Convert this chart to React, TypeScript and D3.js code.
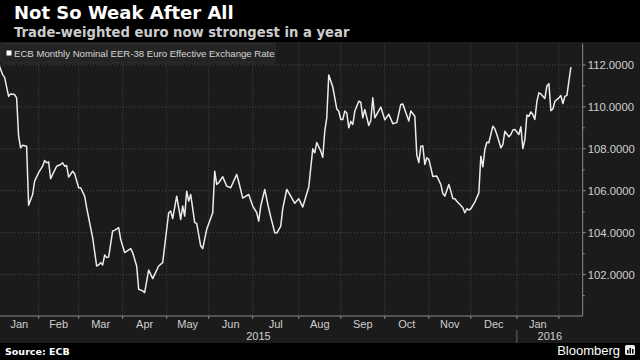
import React from "react";
import * as d3 from "d3";

const W = 640;
const H = 360;

// ---- data ----
const obsDates = [
  "2015-01-02","2015-01-07","2015-01-08","2015-01-12","2015-01-13","2015-01-15","2015-01-16","2015-01-19","2015-01-20","2015-01-21","2015-01-23","2015-01-26","2015-01-28","2015-01-29",
  "2015-02-02","2015-02-04","2015-02-05","2015-02-06","2015-02-09","2015-02-10","2015-02-11","2015-02-13","2015-02-17","2015-02-18","2015-02-19","2015-02-20","2015-02-23","2015-02-25","2015-02-26",
  "2015-03-02","2015-03-03","2015-03-05","2015-03-06","2015-03-10","2015-03-11","2015-03-13","2015-03-16","2015-03-17","2015-03-18","2015-03-19","2015-03-20","2015-03-23","2015-03-25","2015-03-26","2015-03-30","2015-03-31",
  "2015-04-02","2015-04-07","2015-04-08","2015-04-10","2015-04-13","2015-04-15","2015-04-16","2015-04-20","2015-04-22","2015-04-27","2015-04-29","2015-04-30",
  "2015-05-04","2015-05-05","2015-05-06","2015-05-08","2015-05-12","2015-05-13","2015-05-14","2015-05-15","2015-05-18","2015-05-19","2015-05-21","2015-05-22","2015-05-26","2015-05-27","2015-05-29",
  "2015-06-03","2015-06-04","2015-06-05","2015-06-08","2015-06-10","2015-06-12","2015-06-16","2015-06-19","2015-06-22","2015-06-24","2015-06-29",
  "2015-07-01","2015-07-03","2015-07-06","2015-07-07","2015-07-09","2015-07-13","2015-07-14","2015-07-16","2015-07-17","2015-07-21","2015-07-22","2015-07-24","2015-07-28","2015-07-30",
  "2015-08-03","2015-08-05","2015-08-10","2015-08-12","2015-08-13","2015-08-14","2015-08-18","2015-08-19","2015-08-20","2015-08-21","2015-08-24","2015-08-26","2015-08-28","2015-08-31",
  "2015-09-01","2015-09-02","2015-09-03","2015-09-04","2015-09-07","2015-09-08","2015-09-09","2015-09-10","2015-09-14","2015-09-15","2015-09-16","2015-09-17","2015-09-21","2015-09-22","2015-09-23","2015-09-24","2015-09-29",
  "2015-10-01","2015-10-05","2015-10-07","2015-10-09","2015-10-13","2015-10-14","2015-10-19","2015-10-20","2015-10-22","2015-10-23","2015-10-26","2015-10-27","2015-10-28","2015-10-29","2015-10-30",
  "2015-11-02","2015-11-03","2015-11-04","2015-11-06","2015-11-10","2015-11-11","2015-11-12","2015-11-16","2015-11-17","2015-11-18","2015-11-19","2015-11-20","2015-11-24","2015-11-25","2015-11-26","2015-11-27","2015-11-30",
  "2015-12-01","2015-12-02","2015-12-03","2015-12-07","2015-12-08","2015-12-09","2015-12-10","2015-12-11","2015-12-14","2015-12-16","2015-12-17","2015-12-18","2015-12-22","2015-12-23","2015-12-24","2015-12-28","2015-12-29","2015-12-30","2015-12-31",
  "2016-01-04","2016-01-05","2016-01-06","2016-01-07","2016-01-08","2016-01-11","2016-01-12","2016-01-13","2016-01-14","2016-01-15","2016-01-18","2016-01-19","2016-01-21","2016-01-22","2016-01-25","2016-01-26","2016-01-27","2016-01-28",
  "2016-02-01","2016-02-02","2016-02-03","2016-02-04","2016-02-05","2016-02-09",
];

const eerValues = [
  112.3,111.54,111.41,110.5,110.62,110.59,110.43,108.6,108.05,108.17,108.12,105.31,105.82,106.46,
  106.86,107.17,107.44,107.33,107.38,106.57,106.78,107.17,107.25,107.33,107.17,107.2,106.65,106.93,106.81,
  106.14,106.14,105.74,105.19,104.24,103.76,102.41,102.46,102.57,102.46,102.93,102.81,102.84,104.08,104.11,104.24,103.68,
  103.05,103.24,103.05,102.41,101.3,101.22,101.14,102.22,101.81,102.41,102.57,103.36,
  104.95,105.03,104.67,105.74,104.63,105.27,104.79,105.98,105.5,105.82,104.48,104.44,103.36,103.24,104.16,
  104.95,106.93,106.3,106.38,106.67,106.22,106.14,106.78,106.43,105.65,105.82,
  105.27,104.95,104.55,105.27,106.06,105.15,104.75,104.0,103.98,104.31,105.15,106.06,105.74,105.4,
  105.62,105.22,106.18,108.0,107.81,108.3,107.89,107.6,108.84,109.48,111.52,110.95,109.9,109.79,
  109.4,109.4,109.8,109.71,109.0,109.31,109.16,109.79,110.27,110.22,109.48,109.88,109.11,109.35,110.43,109.48,109.99,
  109.38,109.65,109.2,109.25,110.12,110.14,109.33,109.8,109.55,107.7,107.35,108.12,108.14,107.25,107.57,
  107.5,107.1,106.68,106.7,106.3,105.87,105.74,106.3,105.98,105.63,105.62,105.5,105.3,105.19,104.95,105.14,105.08,
  105.14,105.3,105.46,105.9,107.65,107.14,107.97,108.31,108.29,109.08,108.95,108.68,108.05,108.2,108.84,108.57,108.68,108.9,108.92,
  108.68,109.05,108.01,108.44,109.61,109.55,109.76,109.63,109.4,110.25,110.67,110.62,110.4,111.0,111.11,109.82,109.9,110.27,
  110.43,110.54,110.16,110.5,110.55,111.9,
];

const yMajorTicks = [102, 104, 106, 108, 110, 112];
const yMinorTicks = [101, 103, 105, 107, 109, 111];
const monthNames = ["Jan", "Feb", "Mar", "Apr", "May", "Jun", "Jul", "Aug", "Sep", "Oct", "Nov", "Dec"];
const yearLabels = ["2015", "2016"];

const titleText = "Not So Weak After All";
const subtitleText = "Trade-weighted euro now strongest in a year";
const legendText = "ECB Monthly Nominal EER-38 Euro Effective Exchange Rate";
const sourceText = "Source: ECB";

// ---- layout ----
const PLOT_L = 0;
const PLOT_R = 582.7;
const PLOT_T = 43.5;
const PLOT_B = 316;

const START = Date.UTC(2015, 0, 1);
const DAY = 86400000;
function weekdayIndex(t: number): number {
  let n = 0;
  for (let u = START; u < t; u += DAY) {
    const wd = new Date(u).getUTCDay();
    if (wd !== 0 && wd !== 6) n++;
  }
  return n;
}
function firstWeekdayOfMonth(y: number, m: number): number {
  let t = Date.UTC(y, m, 1);
  while ([0, 6].includes(new Date(t).getUTCDay())) t += DAY;
  return t;
}

const xScale = d3.scaleLinear().domain([2.7, 293.9]).range([PLOT_L, PLOT_R]);
const yScale = d3.scaleLinear().domain([100, 113]).range([316.5, 44]);

const FONT = "'Liberation Sans', Arial, sans-serif";
const BOLD = "'DejaVu Sans', Verdana, sans-serif";

export default function App() {
  const pts = obsDates.map((d, i) => ({ i: weekdayIndex(Date.parse(d)), v: eerValues[i] }));
  const line = d3
    .line<{ i: number; v: number }>()
    .x((p) => xScale(p.i))
    .y((p) => yScale(p.v));

  // month boundaries Jan 2015 .. Feb 2016 (+Mar 2016 as end)
  const bounds: { x: number; y: number; m: number }[] = [];
  for (let k = 0; k <= 14; k++) {
    const yy = 2015 + Math.floor(k / 12);
    const mm = k % 12;
    bounds.push({ x: xScale(weekdayIndex(firstWeekdayOfMonth(yy, mm))), y: yy, m: mm });
  }
  const tickBounds = bounds.filter((b) => b.x > PLOT_L + 1 && b.x < PLOT_R - 1);
  const monthLabels: { x: number; text: string }[] = [];
  for (let k = 0; k < bounds.length - 1; k++) {
    const a = Math.max(PLOT_L, bounds[k].x);
    const b = Math.min(PLOT_R, bounds[k + 1].x);
    if (b - a > 30) monthLabels.push({ x: (a + b) / 2, text: monthNames[bounds[k].m] });
  }
  const x2016 = xScale(weekdayIndex(Date.UTC(2016, 0, 1)));
  const yearPos = [(PLOT_L + x2016) / 2, (x2016 + PLOT_R) / 2];

  const gridColor = "#4a4a4a";
  const axisColor = "#8c8c8c";
  const labelColor = "#cfcfcf";

  return (
    <svg width={W} height={H} viewBox={`0 0 ${W} ${H}`} style={{ display: "block", position: "absolute", left: 0, top: 0 }}>
      <defs>
        <clipPath id="plotclip">
          <rect x={PLOT_L} y={PLOT_T} width={PLOT_R - PLOT_L} height={PLOT_B - PLOT_T} />
        </clipPath>
      </defs>
      <rect x={0} y={0} width={W} height={H} fill="#000" />
      <rect x={0} y={42} width={W} height={301} fill="#1b1b1b" />

      {/* title */}
      <text x={14} y={19} fill="#ffffff" fontFamily={BOLD} fontWeight="bold" fontSize={18}>
        {titleText}
      </text>
      <text x={14} y={36.5} fill="#cccccc" fontFamily={BOLD} fontWeight="bold" fontSize={13.2}>
        {subtitleText}
      </text>

      {/* grid */}
      {yMajorTicks.map((t) => (
        <line key={"gy" + t} x1={PLOT_L} x2={PLOT_R} y1={yScale(t)} y2={yScale(t)} stroke={gridColor} strokeWidth={1} strokeDasharray="1,2" />
      ))}
      {tickBounds.map((b, k) => (
        <line key={"gx" + k} x1={b.x} x2={b.x} y1={PLOT_T} y2={PLOT_B} stroke={gridColor} strokeWidth={1} strokeDasharray="1,2" />
      ))}

      {/* legend */}
      <rect x={1} y={43.5} width={274} height={19.5} rx={2} fill="#242424" stroke="#303030" />
      <rect x={6.5} y={50.5} width={5} height={5} fill="#ffffff" />
      <text x={14} y={57.3} fill="#d6d6d6" fontFamily={FONT} fontSize={9.6}>
        {legendText}
      </text>

      {/* series */}
      <g clipPath="url(#plotclip)">
        <path d={line(pts) || ""} fill="none" stroke="#ececec" strokeWidth={1.5} strokeLinejoin="round" />
      </g>

      {/* axes */}
      <line x1={PLOT_L} x2={PLOT_R} y1={PLOT_B} y2={PLOT_B} stroke={axisColor} strokeWidth={1} />
      <line x1={PLOT_R} x2={PLOT_R} y1={PLOT_T} y2={PLOT_B} stroke={axisColor} strokeWidth={1} />
      {tickBounds.map((b, k) => (
        <line key={"tx" + k} x1={b.x} x2={b.x} y1={PLOT_B} y2={PLOT_B + 3} stroke={axisColor} strokeWidth={1} />
      ))}
      {yMajorTicks.map((t) => (
        <g key={"ty" + t}>
          <line x1={PLOT_R} x2={PLOT_R + 3} y1={yScale(t)} y2={yScale(t)} stroke={axisColor} strokeWidth={1} />
          <text x={PLOT_R + 5} y={yScale(t)} dy="0.35em" fill={labelColor} fontFamily={FONT} fontSize={11.3}>
            {t.toFixed(4)}
          </text>
        </g>
      ))}
      {yMinorTicks.map((t) => (
        <line key={"my" + t} x1={PLOT_R} x2={PLOT_R + 2} y1={yScale(t)} y2={yScale(t)} stroke={axisColor} strokeWidth={1} />
      ))}
      {monthLabels.map((m, k) => (
        <text key={"ml" + k} x={m.x} y={327.5} textAnchor="middle" fill={labelColor} fontFamily={FONT} fontSize={11}>
          {m.text}
        </text>
      ))}
      {yearLabels.map((y, k) => (
        <text key={"yl" + y} x={yearPos[k]} y={340} textAnchor="middle" fill={labelColor} fontFamily={FONT} fontSize={11}>
          {y}
        </text>
      ))}
      <line x1={x2016} x2={x2016} y1={330} y2={343} stroke="#666" strokeWidth={1} />

      {/* footer */}
      <rect x={0} y={343} width={W} height={17} fill="#000" />
      <text x={5} y={354.5} fill="#ffffff" fontFamily={BOLD} fontWeight="bold" fontSize={9.5}>
        {sourceText}
      </text>
      <text x={620} y={355} textAnchor="end" fill="#ffffff" fontFamily={FONT} fontSize={13}>
        Bloomberg
      </text>
      <rect x={625} y={345} width={10} height={10} rx={1.5} fill="#e8e8e8" />
      <rect x={627} y={350} width={1.5} height={3.5} fill="#000" />
      <rect x={629.5} y={348} width={1.5} height={5.5} fill="#000" />
      <rect x={632} y={349} width={1.5} height={4.5} fill="#000" />
    </svg>
  );
}
